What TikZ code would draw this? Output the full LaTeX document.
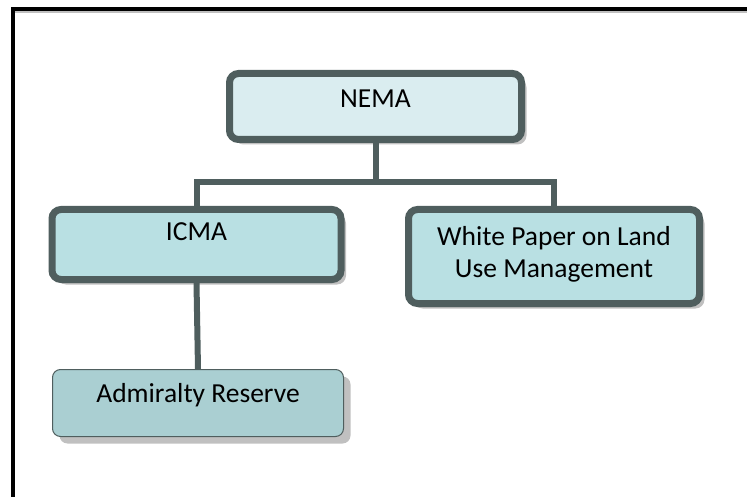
\documentclass[tikz,border=0pt]{standalone}
\usepackage{fontspec}
\setmainfont{Carlito}
\usetikzlibrary{shadows}
\definecolor{bordc}{RGB}{79,94,94}
\definecolor{topfill}{RGB}{218,237,240}
\definecolor{midfill}{RGB}{185,224,227}
\definecolor{lowfill}{RGB}{170,207,210}
\definecolor{shadc}{RGB}{192,192,192}
\tikzset{
  thickbox/.style={draw=bordc, line width=7pt, rounded corners=9pt,
    align=center, inner sep=0pt, text depth=0pt,
    font=\fontsize{27.5}{33}\selectfont,
    drop shadow={shadow xshift=5pt, shadow yshift=-5pt, fill=shadc, opacity=1}},
  thinbox/.style={draw=bordc, line width=1pt, rounded corners=8pt,
    align=center, inner sep=0pt, text depth=0pt, fill=lowfill,
    font=\fontsize{27.5}{33}\selectfont,
    drop shadow={shadow xshift=7pt, shadow yshift=-7pt, fill=shadc, opacity=1}},
  conn/.style={draw=bordc, line width=6pt}
}
\begin{document}
\begin{tikzpicture}[x=1pt,y=-1pt]
\useasboundingbox (0,0) rectangle (747,497);
% outer frame (only top and left visible)
\draw[shadc, line width=1.5pt] (15,11.8) -- (747,11.8);
\draw[black, line width=4pt] (13,497) -- (13,9) -- (747,9);
% boxes
\node[thickbox, fill=topfill, minimum width=292pt, minimum height=66pt] (nema) at (375.5,106.5) {\raisebox{15pt}{NEMA}};
\node[thickbox, fill=midfill, minimum width=289pt, minimum height=70pt] (icma) at (196.5,244.5) {\raisebox{25pt}{ICMA}};
\node[thickbox, fill=midfill, minimum width=291pt, minimum height=94pt] (wp) at (554,256.5) {\raisebox{30pt}{\begin{tabular}{@{}c@{}}White Paper on Land\\[-1pt] Use Management\end{tabular}}};
\node[thinbox, minimum width=291pt, minimum height=67pt] (adm) at (198,403) {\raisebox{20pt}{Admiralty Reserve}};
% connectors
\coordinate (bar) at (375.5,182.5);
\draw[conn] (nema.south) -- (bar);
\draw[conn] (bar) -| (icma.north);
\draw[conn] (bar) -| (wp.north);
\draw[conn] (icma.south) -- (adm.north);
\end{tikzpicture}
\end{document}
